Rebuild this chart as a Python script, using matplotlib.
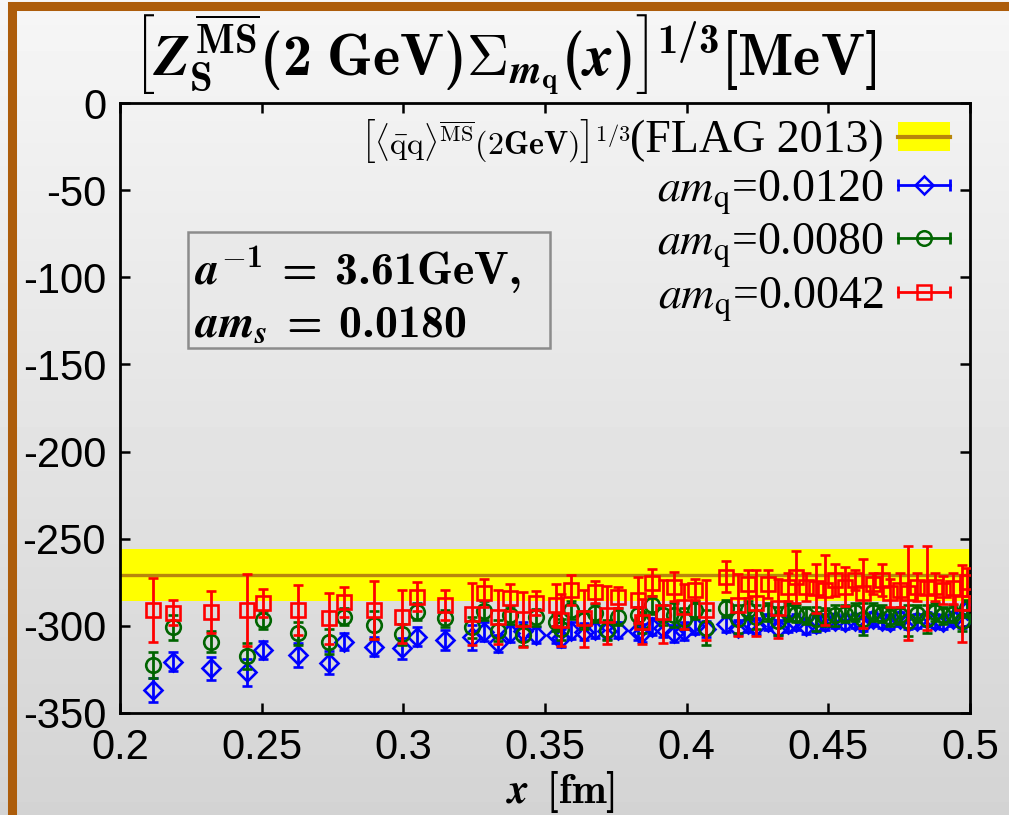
import matplotlib
matplotlib.use("Agg")
import matplotlib.pyplot as plt
import numpy as np
from matplotlib.lines import Line2D
from matplotlib.patches import Patch, Rectangle
from matplotlib.legend_handler import HandlerBase

plt.rcParams['mathtext.fontset'] = 'cm'
# "custom" math font: bold Computer Modern upright, bold italic STIX for letters
plt.rcParams['mathtext.rm'] = 'cmb10'
plt.rcParams['mathtext.bf'] = 'cmb10'
plt.rcParams['mathtext.it'] = 'STIXGeneral:italic:bold'
plt.rcParams['mathtext.bfit'] = 'STIXGeneral:italic:bold'
plt.rcParams['axes.unicode_minus'] = False
plt.rcParams['font.family'] = ['Liberation Sans', 'DejaVu Sans']

# lattice distances x [fm], shared by all three masses
x_fm = [0.2118, 0.2188, 0.2321, 0.2447, 0.2505, 0.2627, 0.2737, 0.2792, 0.2898, 0.2995,
        0.3049, 0.3147, 0.3241, 0.3285, 0.3334, 0.3376, 0.3422, 0.3467, 0.3539, 0.3556,
        0.3592, 0.3639, 0.3678, 0.3718, 0.3757, 0.3828, 0.3842, 0.3878, 0.3915, 0.3954,
        0.3992, 0.4028, 0.4069, 0.4140, 0.4181, 0.4216, 0.4246, 0.4287, 0.4322, 0.4358,
        0.4387, 0.4422, 0.4458, 0.4487, 0.4524, 0.4559, 0.4594, 0.4623, 0.4659, 0.4688,
        0.4718, 0.4753, 0.4782, 0.4812, 0.4847, 0.4876, 0.4906, 0.4941, 0.4971, 0.4988]

# am_q = 0.0042 (red)
red_y = [-290.9, -292.4, -291.9, -290.9, -287.0, -290.9, -295.7, -286.1, -290.9, -294.7,
         -283.3, -288.0, -293.2, -281.0, -295.1, -283.8, -296.3, -287.0, -288.0, -296.7,
         -279.4, -295.7, -280.4, -293.8, -283.6, -285.2, -297.6, -275.2, -291.9, -277.5,
         -289.0, -279.4, -290.9, -271.8, -288.0, -275.8, -287.0, -275.8, -290.0, -277.5,
         -272.0, -277.5, -278.4, -279.4, -273.7, -277.5, -273.7, -281.4, -275.8, -273.7,
         -281.4, -279.4, -281.4, -277.5, -278.4, -277.5, -279.4, -278.4, -287.0, -275.0]
red_err = [18.5, 7.0, 12.0, 20.5, 8.0, 14.3, 14.8, 8.6, 16.8, 15.0,
           8.3, 8.4, 18.0, 8.0, 15.6, 7.6, 15.8, 6.7, 12.0, 15.0,
           8.8, 16.4, 6.3, 16.5, 6.0, 13.0, 13.0, 7.7, 18.0, 8.3,
           13.0, 6.0, 17.0, 9.0, 18.0, 8.0, 19.0, 8.0, 17.0, 8.0,
           15.0, 8.0, 14.0, 20.0, 9.0, 11.0, 6.0, 20.0, 6.0, 9.0,
           8.0, 10.0, 27.0, 8.0, 24.0, 8.0, 8.0, 9.0, 22.0, 8.0]

# am_q = 0.0080 (green)
green_y = [-322.5, -300.9, -309.1, -317.3, -296.7, -304.3, -309.1, -294.7, -299.5, -304.9,
           -291.9, -295.7, -300.9, -291.3, -302.8, -293.8, -305.3, -295.1, -298.0, -302.0,
           -290.9, -296.7, -292.7, -302.4, -294.7, -294.0, -298.0, -288.0, -293.8, -293.8,
           -296.0, -291.0, -301.0, -290.0, -296.0, -291.0, -295.0, -292.0, -297.0, -292.0,
           -293.0, -294.0, -296.0, -295.0, -294.0, -293.0, -292.0, -296.0, -292.0, -293.0,
           -295.0, -294.0, -297.0, -293.0, -296.0, -292.0, -294.0, -293.0, -297.0, -290.0]
green_err = [7.2, 7.0, 6.0, 7.5, 5.0, 6.7, 7.0, 5.0, 8.0, 6.0,
             5.0, 5.0, 6.0, 5.5, 6.0, 5.0, 6.0, 5.0, 5.0, 6.0,
             5.0, 5.0, 5.0, 6.0, 5.0, 5.0, 6.0, 5.0, 6.0, 7.0,
             6.0, 5.0, 10.0, 5.0, 8.0, 5.0, 7.0, 5.0, 8.0, 5.0,
             5.0, 5.0, 7.0, 5.0, 6.0, 5.0, 5.0, 9.0, 5.0, 5.0,
             5.0, 5.0, 9.0, 5.0, 8.0, 5.0, 5.0, 5.0, 6.0, 5.0]

# am_q = 0.0120 (blue)
blue_y = [-336.8, -320.5, -324.4, -326.7, -313.9, -316.7, -321.1, -309.1, -312.0, -312.9,
          -306.2, -308.1, -306.6, -303.3, -310.0, -304.3, -303.0, -305.3, -305.0, -307.0,
          -302.8, -303.3, -302.4, -302.8, -302.4, -303.0, -304.0, -300.5, -301.4, -304.3,
          -303.0, -300.0, -302.0, -299.0, -301.0, -299.0, -300.0, -298.0, -301.0, -299.0,
          -298.0, -300.0, -299.0, -298.0, -297.0, -298.0, -297.0, -299.0, -296.0, -297.0,
          -298.0, -296.0, -298.0, -297.0, -296.0, -297.0, -298.0, -296.0, -297.0, -291.0]
blue_err = [7.0, 5.3, 6.7, 7.6, 5.3, 7.0, 6.7, 5.0, 5.5, 6.0,
            5.5, 5.6, 7.0, 5.3, 5.0, 5.0, 5.0, 4.6, 5.0, 5.0,
            5.0, 5.0, 4.5, 5.0, 4.5, 5.0, 5.0, 5.0, 5.0, 5.0,
            5.0, 4.5, 4.5, 4.5, 4.5, 4.5, 4.5, 4.5, 4.5, 4.5,
            4.5, 4.5, 4.5, 4.5, 4.0, 4.0, 4.0, 4.0, 4.0, 4.0,
            4.0, 4.0, 4.0, 4.0, 4.0, 4.0, 4.0, 4.0, 4.0, 4.0]

# FLAG 2013 condensate [MeV]
flag_center = -271.0
flag_err = 15.0

labels = ['$am_{\\rm q}$=0.0120', '$am_{\\rm q}$=0.0080', '$am_{\\rm q}$=0.0042']
xticks = [0.2, 0.25, 0.3, 0.35, 0.4, 0.45, 0.5]
xtick_labels = ['0.2', '0.25', '0.3', '0.35', '0.4', '0.45', '0.5']
yticks = [0, -50, -100, -150, -200, -250, -300, -350]


class ErrLegendHandler(HandlerBase):
    """gnuplot style key: horizontal bar with caps and a hollow marker in the middle."""
    def create_artists(self, legend, orig_handle, xdescent, ydescent,
                       width, height, fontsize, trans):
        c = orig_handle.get_color()
        y = height / 2 - ydescent
        x0, x1 = -xdescent, width - xdescent
        bar = Line2D([x0, x1], [y, y], color=c, lw=2)
        caps = Line2D([x0, x1], [y, y], ls='none', marker='|', ms=9, mew=2, color=c)
        mk = Line2D([(x0 + x1) / 2], [y], ls='none', marker=orig_handle.get_marker(),
                    ms=orig_handle.get_markersize(), mfc='none', mec=c, mew=1.8)
        for a in (bar, caps, mk):
            a.set_transform(trans)
        return [bar, caps, mk]


fig = plt.figure(figsize=(10.09, 8.15), dpi=100)

# slide background: light grey vertical gradient + brown frame
bg = fig.add_axes([0, 0, 1, 1], zorder=-10)
grad = np.linspace(0.83, 0.965, 256).reshape(-1, 1)
bg.imshow(grad, aspect='auto', cmap='gray', vmin=0, vmax=1,
          extent=[0, 1, 0, 1], origin='lower')
bg.set_xlim(0, 1)
bg.set_ylim(0, 1)
bg.axis('off')
bg.add_patch(Rectangle((0.012, -0.05), 1.2, 1.043, fill=False,
                       edgecolor='#ad5d0b', lw=6.5, transform=bg.transAxes))

ax = fig.add_axes([0.1189, 0.1252, 0.8424, 0.7484])
ax.set_facecolor('none')

ax.axhspan(flag_center - flag_err, flag_center + flag_err, color='#ffff00', lw=0, zorder=1)
ax.axhline(flag_center, color='#b8860b', lw=2.4, zorder=2)

series = [
    (blue_y, blue_err, 'D', 9.5, '#0000ff'),
    (green_y, green_err, 'o', 10.5, '#006400'),
    (red_y, red_err, 's', 10, '#ff0000'),
]
handles = []
for i, (yv, ev, mk, ms, col) in enumerate(series):
    ax.errorbar(x_fm, yv, yerr=ev, fmt=mk, ms=ms, mfc='none', mec=col, mew=1.9,
                ecolor=col, elinewidth=2.0, capsize=3.8, capthick=2.0, zorder=3 + i)
    handles.append(Line2D([], [], color=col, marker=mk, ms=ms))

ax.set_xlim(0.2, 0.5)
ax.set_ylim(-350, 0)
ax.set_xticks(xticks)
ax.set_xticklabels(xtick_labels)
ax.set_yticks(yticks)
ax.set_yticklabels([str(v) for v in yticks])
ax.tick_params(direction='in', length=7, width=1.8, top=True, right=True,
               labelsize=30)
ax.tick_params(axis='x', pad=11)
ax.tick_params(axis='y', pad=10)
for sp in ax.spines.values():
    sp.set_linewidth(2)

# key
flag_handle = (Patch(facecolor='#ffff00', edgecolor='none'),
               Line2D([], [], color='#b8860b', lw=3))
hmap = {h: ErrLegendHandler() for h in handles}
leg = ax.legend([flag_handle] + handles, ['(FLAG 2013)'] + labels,
                handler_map=hmap, loc='upper right', bbox_to_anchor=(1.004, 1.01),
                frameon=False, markerfirst=False, handlelength=1.15, handleheight=0.6,
                handletextpad=0.3, labelspacing=0.12, borderpad=0.0,
                prop={'family': 'Liberation Serif', 'size': 33})
for t in leg.get_texts()[1:]:
    t.set_math_fontfamily('stix')
flag_txt = ax.annotate(r'$\left[\langle\bar{\mathrm{q}}\mathrm{q}\rangle^{\overline{\mathrm{MS}}}'
                       r'(\mathbf{2GeV})\right]^{1/3}$',
                       xy=(0, 0.5), xycoords=leg.get_texts()[0], ha='right', va='center',
                       fontsize=23, zorder=20)
flag_txt.set_math_fontfamily('cm')

# parameter box
ax.add_patch(Rectangle((0.08, 0.598), 0.426, 0.19, transform=ax.transAxes,
                       facecolor='#e9e9e9', edgecolor='#8c8c8c', lw=1.8, zorder=6))
box1 = ax.text(0.088, 0.726, r'$a^{-1}\;=\;3.61{\rm GeV},$',
               transform=ax.transAxes, fontsize=33, va='center', ha='left', zorder=7)
box2 = ax.text(0.088, 0.636, r'$am_s\;=\;0.0180$',
               transform=ax.transAxes, fontsize=33, va='center', ha='left', zorder=7)

title = fig.text(0.5, 0.933,
                 r'$\left[Z_{\rm S}^{\overline{\rm MS}}({\rm 2\ GeV})'
                 r'\Sigma_{m_{\rm q}}(x)\right]^{\rm 1/3}{\rm [MeV]}$',
                 ha='center', va='center', fontsize=42)
xlab = fig.text(0.555, 0.028, r'$x\;\;{\rm [fm]}$', ha='center', va='center', fontsize=30)
for t in (box1, box2, title, xlab):
    t.set_math_fontfamily('custom')

fig.savefig('out.png', dpi=100)
